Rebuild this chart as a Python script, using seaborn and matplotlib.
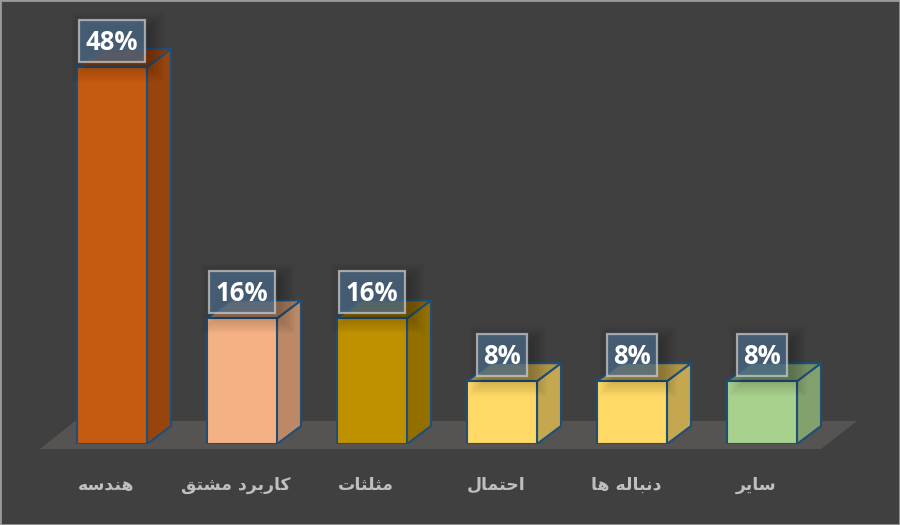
import matplotlib
matplotlib.use("Agg")
import matplotlib.pyplot as plt
import matplotlib.colors as mc
from matplotlib.patches import Polygon, Rectangle
from matplotlib.transforms import ScaledTranslation
import pandas as pd
import seaborn as sns

categories = ["هندسه", "کاربرد مشتق", "مثلثات", "احتمال", "دنباله ها", "سایر"]
values = [48, 16, 16, 8, 8, 8]
colors = ["#C55A11", "#F4B183", "#BF9000", "#FFD966", "#FFD966", "#A9D18E"]

# Contextual Arabic forms: isolated, final, initial, medial
FORMS = {
    "ا": (0xFE8D, 0xFE8E), "د": (0xFEA9, 0xFEAA), "ر": (0xFEAD, 0xFEAE),
    "ب": (0xFE8F, 0xFE90, 0xFE91, 0xFE92), "ت": (0xFE95, 0xFE96, 0xFE97, 0xFE98),
    "ث": (0xFE99, 0xFE9A, 0xFE9B, 0xFE9C), "ح": (0xFEA1, 0xFEA2, 0xFEA3, 0xFEA4),
    "س": (0xFEB1, 0xFEB2, 0xFEB3, 0xFEB4), "ش": (0xFEB5, 0xFEB6, 0xFEB7, 0xFEB8),
    "ق": (0xFED5, 0xFED6, 0xFED7, 0xFED8), "ک": (0xFB8E, 0xFB8F, 0xFB90, 0xFB91),
    "ل": (0xFEDD, 0xFEDE, 0xFEDF, 0xFEE0), "م": (0xFEE1, 0xFEE2, 0xFEE3, 0xFEE4),
    "ن": (0xFEE5, 0xFEE6, 0xFEE7, 0xFEE8), "ه": (0xFEE9, 0xFEEA, 0xFEEB, 0xFEEC),
    "ی": (0xFBFC, 0xFBFD, 0xFBFE, 0xFBFF),
}


def shape(word):
    out = []
    for i, ch in enumerate(word):
        if ch not in FORMS:
            out.append(ch)
            continue
        prev = word[i - 1] if i else ""
        nxt = word[i + 1] if i + 1 < len(word) else ""
        joins_prev = prev in FORMS and len(FORMS[prev]) == 4
        joins_next = nxt in FORMS and len(FORMS[ch]) == 4
        idx = {(False, False): 0, (True, False): 1, (False, True): 2, (True, True): 3}[(joins_prev, joins_next)]
        out.append(chr(FORMS[ch][idx]))
    return "".join(reversed(out))


BG = "#404040"
sns.set_theme(style="white", rc={"axes.facecolor": "none", "figure.facecolor": BG})
fig = plt.figure(figsize=(9, 5.25), dpi=100, facecolor=BG)
ax = fig.add_axes([47 / 900, 81 / 525, 780 / 900, 444 / 525])

df = pd.DataFrame({"cat": categories, "val": values})
sns.barplot(data=df, x="cat", y="val", hue="cat", palette=colors, width=70 / 130,
            edgecolor="#1F4E79", linewidth=1.5, saturation=1, legend=False, ax=ax, zorder=3)
PX_Y = 377 / 48
PX_X = 130
ax.set_xlim(-0.5, 5.5)
ax.set_ylim(0, 444 / PX_Y)
sns.despine(ax=ax, left=True, bottom=True)
ax.set_yticks([])
ax.set_xlabel("")
ax.set_ylabel("")
ax.set_xticks(range(len(categories)))
ax.set_xticklabels([shape(c) for c in categories], color="#BFBFBF", fontsize=12.4,
                   fontweight="bold", family="DejaVu Sans")
ax.tick_params(axis="x", length=0, pad=23)
shift = ScaledTranslation(-6 / 100, 0, fig.dpi_scale_trans)
for lab in ax.get_xticklabels():
    lab.set_transform(lab.get_transform() + shift)

dx, dy = 24 / PX_X, 18 / PX_Y

# floor
fx = lambda p: (p - 112) / PX_X
fy = lambda p: (444 - p) / PX_Y
ax.add_patch(Polygon([(fx(40), fy(449)), (fx(821), fy(449)), (fx(857), fy(421)), (fx(75), fy(421))],
                     closed=True, fc="#565353", ec="none", zorder=0, clip_on=False))

# 3-D faces derived from each drawn bar
for bar, col in zip(ax.patches[:len(values)], colors):
    x0, x1 = bar.get_x(), bar.get_x() + bar.get_width()
    top = bar.get_height()
    rgb = mc.to_rgb(col)
    side = tuple(c * 0.77 for c in rgb)
    roof = tuple(c * 0.68 for c in rgb)
    ax.add_patch(Polygon([(x1, 0), (x1 + dx, dy), (x1 + dx, top + dy), (x1, top)], closed=True,
                         fc=side, ec="#1F4E79", lw=1.5, zorder=2, joinstyle="round"))
    ax.add_patch(Polygon([(x0, top), (x0 + dx, top + dy), (x1 + dx, top + dy), (x1, top)], closed=True,
                         fc=roof, ec="#1F4E79", lw=1.5, zorder=2, joinstyle="round"))

# value labels with a soft shadow
for i, v in enumerate(values):
    txt = f"{v}%"
    w = (len(txt) * 16 + 18) / PX_X
    h = 42 / PX_Y
    y0 = v + 5 / PX_Y
    sx, sy = 6 / PX_X, -6 / PX_Y
    for g in (14, 12, 10, 8, 6, 4, 2, 0):
        gx, gy = g / PX_X, g / PX_Y
        ax.add_patch(Rectangle((i - w / 2 + sx - gx, y0 + sy - gy), w + 2 * gx, h + 2 * gy,
                               fc="black", ec="none", alpha=0.022, zorder=4, clip_on=False))
    ax.add_patch(Rectangle((i - w / 2, y0), w, h, fc="#4E6E8E", alpha=0.7, ec="none", zorder=5))
    ax.add_patch(Rectangle((i - w / 2, y0), w, h, fc="none", ec="#D0D0D0", alpha=0.7, lw=1.6, zorder=5))
    ax.annotate(txt, xy=(i, v), xycoords="data", xytext=(0, 25), textcoords="offset pixels",
                ha="center", va="center", color="white", fontsize=18.5, fontweight="bold",
                family="Open Sans", zorder=6, annotation_clip=False)

# outer frame
fig.add_artist(Rectangle((0, 0), 1, 1, transform=fig.transFigure, fc="none", ec="#9A9A9A", lw=2, zorder=10))

fig.savefig("out.png", dpi=100, facecolor=BG)
